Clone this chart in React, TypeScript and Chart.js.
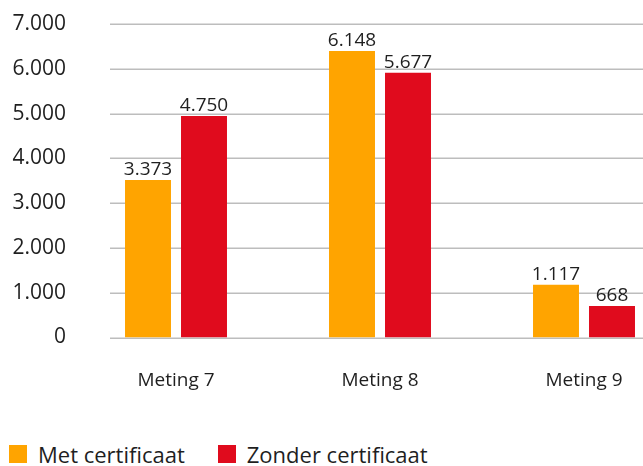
import React, { useEffect, useRef } from "react";
import { Chart, registerables } from "chart.js";

Chart.register(...registerables);

// ---- data ----
const categories = ["Meting 7", "Meting 8", "Meting 9"];
const seriesNames = ["Met certificaat", "Zonder certificaat"];
// bar heights as drawn in the picture
const metCertificaat = [3516, 6395, 1179];
const zonderCertificaat = [4944, 5911, 703];
// value labels printed above the bars
const metLabels = ["3.373", "6.148", "1.117"];
const zonderLabels = ["4.750", "5.677", "668"];
const yMin = 0;
const yMax = 7000;
const yStep = 1000;

const ORANGE = "#FFA400";
const RED = "#E00B1D";
const TEXT = "#1f1f1f";
const GRID = "#bdbdbd";
const FONT = "'Open Sans', sans-serif";

const fmt = (v: number) =>
  String(Math.round(v)).replace(/\B(?=(\d{3})+(?!\d))/g, ".");

const gridPlugin = {
  id: "customGrid",
  beforeDatasetsDraw(chart: any) {
    const { ctx, chartArea } = chart;
    const ys = chart.scales.y;
    ctx.save();
    ctx.strokeStyle = GRID;
    ctx.lineWidth = 1.5;
    ys.ticks.forEach((t: any) => {
      const py = Math.round(ys.getPixelForValue(t.value)) + 0.25;
      ctx.beginPath();
      ctx.moveTo(chartArea.left + 36, py);
      ctx.lineTo(chartArea.right, py);
      ctx.stroke();
    });
    ctx.restore();
  },
};

const labelPlugin = {
  id: "valueLabels",
  afterDatasetsDraw(chart: any) {
    const { ctx } = chart;
    const all = [metLabels, zonderLabels];
    ctx.save();
    ctx.font = `19px ${FONT}`;
    ctx.fillStyle = TEXT;
    ctx.textAlign = "center";
    ctx.textBaseline = "alphabetic";
    chart.data.datasets.forEach((_: any, di: number) => {
      const meta = chart.getDatasetMeta(di);
      meta.data.forEach((el: any, i: number) => {
        ctx.fillText(all[di][i], el.x, el.y - 5);
      });
    });
    ctx.restore();
  },
};

export default function App() {
  const ref = useRef<HTMLCanvasElement | null>(null);

  useEffect(() => {
    document.body.style.margin = "0";
    document.body.style.overflow = "hidden";
    const canvas = ref.current;
    if (!canvas) return;
    const chart = new Chart(canvas, {
      type: "bar",
      data: {
        labels: categories,
        datasets: [
          {
            label: seriesNames[0],
            data: metCertificaat,
            backgroundColor: ORANGE,
            categoryPercentage: 0.549,
            barPercentage: 0.821,
          },
          {
            label: seriesNames[1],
            data: zonderCertificaat,
            backgroundColor: RED,
            categoryPercentage: 0.549,
            barPercentage: 0.821,
          },
        ],
      },
      options: {
        animation: false,
        responsive: false,
        devicePixelRatio: 1,
        layout: { padding: { top: 24, left: 0, right: 0, bottom: 0 } },
        plugins: {
          legend: { display: false },
          tooltip: { enabled: false },
        },
        scales: {
          x: {
            grid: { display: false, drawTicks: false },
            border: { display: false },
            ticks: {
              font: { family: FONT, size: 19 },
              color: TEXT,
              padding: 32,
            },
            afterFit: (scale: any) => {
              scale.height = 82.5;
            },
          },
          y: {
            min: yMin,
            max: yMax,
            grid: { display: false, drawTicks: false },
            border: { display: false },
            ticks: {
              stepSize: yStep,
              font: { family: FONT, size: 21 },
              color: TEXT,
              padding: 8,
              callback: (v: any) => fmt(Number(v)),
            },
            afterFit: (scale: any) => {
              scale.width = 74;
            },
          },
        },
      },
      plugins: [gridPlugin, labelPlugin],
    });
    return () => chart.destroy();
  }, []);

  const box = (color: string) => (
    <span
      style={{
        display: "inline-block",
        width: 18,
        height: 18,
        background: color,
        marginRight: 11,
      }}
    />
  );

  return (
    <div
      style={{
        position: "relative",
        width: 643,
        height: 466,
        overflow: "hidden",
        background: "#fff",
      }}
    >
      <canvas
        ref={ref}
        width={686}
        height={420}
        style={{ width: 686, height: 420, display: "block" }}
      />
      <div
        style={{
          position: "absolute",
          left: 9,
          top: 442,
          display: "flex",
          alignItems: "center",
          fontFamily: FONT,
          fontSize: 22,
          lineHeight: "24px",
          color: TEXT,
        }}
      >
        <span style={{ display: "flex", alignItems: "center", marginRight: 33 }}>
          {box(ORANGE)}
          <span>{seriesNames[0]}</span>
        </span>
        <span style={{ display: "flex", alignItems: "center" }}>
          {box(RED)}
          <span>{seriesNames[1]}</span>
        </span>
      </div>
    </div>
  );
}
